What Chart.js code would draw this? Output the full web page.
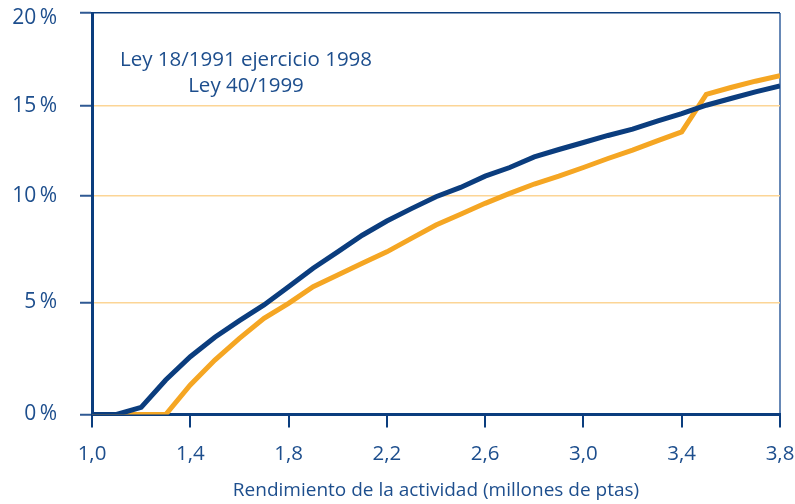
<!DOCTYPE html>
<html lang="es">
<head>
<meta charset="utf-8">
<title>Rendimiento de la actividad</title>
<script src="https://cdn.jsdelivr.net/npm/chart.js@4.4.1/dist/chart.umd.min.js"></script>
<style>
  html, body { margin: 0; padding: 0; background: #fff; }
  #contenedor { width: 795px; height: 504px; }
</style>
</head>
<body>
<div id="contenedor"><canvas id="graficoTipos"></canvas></div>
<script>
// Rendimiento (millones de ptas)
const rendimientos = [1.0, 1.1, 1.2, 1.3, 1.4, 1.5, 1.6, 1.7, 1.8, 1.9,
                      2.0, 2.1, 2.2, 2.3, 2.4, 2.5, 2.6, 2.7, 2.8, 2.9,
                      3.0, 3.1, 3.2, 3.3, 3.4, 3.5, 3.6, 3.7, 3.8];

// Tipo medio (%) - Ley 18/1991 ejercicio 1998
const ley1991 = [0, 0, 0.32, 1.54, 2.58, 3.45, 4.19, 4.89, 5.74, 6.61,
                 7.38, 8.16, 8.83, 9.41, 9.97, 10.48, 11.11, 11.59, 12.18, 12.59,
                 12.98, 13.37, 13.72, 14.17, 14.58, 15.05, 15.41, 15.77, 16.09];

// Tipo medio (%) - Ley 40/1999
const ley1999 = [0, 0, 0, 0, 1.32, 2.43, 3.40, 4.29, 4.96, 5.74,
                 6.29, 6.84, 7.38, 8.01, 8.64, 9.15, 9.66, 10.15, 10.67, 11.11,
                 11.59, 12.09, 12.56, 13.07, 13.57, 15.63, 16.0, 16.34, 16.63];

const ticksY = [0, 5, 10, 15, 20];
const textosLeyenda = ['Ley 18/1991 ejercicio 1998', 'Ley 40/1999'];
const tituloEjeX = 'Rendimiento de la actividad (millones de ptas)';

const AZUL = '#0b3d7e';
const TEXTO = '#1d4e8d';
const NARANJA = '#f5a623';

// El eje vertical del original no es uniforme: cada tramo de 5 puntos ocupa
// una fracción distinta del alto. Se replica con una escala lineal por tramos.
const tramosY = [[0, 0], [5, 0.279], [10, 0.544], [15, 0.768], [20, 1]];

function valorADecimal(v) {
    for (let i = 1; i < tramosY.length; i++) {
        const [v0, d0] = tramosY[i - 1];
        const [v1, d1] = tramosY[i];
        if (v <= v1 || i === tramosY.length - 1) {
            return d0 + (v - v0) / (v1 - v0) * (d1 - d0);
        }
    }
    return 0;
}

function decimalAValor(d) {
    for (let i = 1; i < tramosY.length; i++) {
        const [v0, d0] = tramosY[i - 1];
        const [v1, d1] = tramosY[i];
        if (d <= d1 || i === tramosY.length - 1) {
            return v0 + (d - d0) / (d1 - d0) * (v1 - v0);
        }
    }
    return 0;
}

class EscalaTramos extends Chart.LinearScale {
    getPixelForValue(value) {
        if (value === null || isNaN(value)) return NaN;
        return this.getPixelForDecimal(valorADecimal(value));
    }
    getValueForPixel(pixel) {
        return decimalAValor(this.getDecimalForPixel(pixel));
    }
    // la etiqueta superior (20 %) va un poco por debajo de su marca, como en el original
    _computeLabelItems(chartArea) {
        const items = super._computeLabelItems(chartArea);
        items.forEach((item, i) => {
            if (this.ticks[i] && this.ticks[i].value === this.max) {
                item.options.translation[1] += 5;
            }
        });
        return items;
    }
}
EscalaTramos.id = 'tramos';
EscalaTramos.defaults = Chart.LinearScale.defaults;
Chart.register(EscalaTramos);

// Texto de la leyenda centrado dentro del área del gráfico
const leyendaTexto = {
    id: 'leyendaTexto',
    afterDraw(chart) {
        const ctx = chart.ctx;
        ctx.save();
        ctx.font = "20.5px 'Open Sans', sans-serif";
        ctx.fillStyle = TEXTO;
        ctx.textAlign = 'center';
        ctx.textBaseline = 'middle';
        ctx.fillText(textosLeyenda[0], 246, 60);
        ctx.fillText(textosLeyenda[1], 246, 86);
        ctx.restore();
    }
};

function puntos(valores) {
    return rendimientos.map((x, i) => ({ x: x, y: valores[i] }));
}

Chart.defaults.font.family = "'Open Sans', sans-serif";
Chart.defaults.color = TEXTO;

new Chart(document.getElementById('graficoTipos'), {
    type: 'line',
    data: {
        datasets: [
            {
                label: textosLeyenda[0],
                data: puntos(ley1991),
                borderColor: AZUL,
                borderWidth: 5,
                pointRadius: 0,
                tension: 0
            },
            {
                label: textosLeyenda[1],
                data: puntos(ley1999),
                borderColor: NARANJA,
                borderWidth: 5,
                pointRadius: 0,
                tension: 0
            }
        ]
    },
    options: {
        responsive: true,
        maintainAspectRatio: false,
        animation: false,
        layout: { padding: { top: 13, right: 15, left: 0, bottom: 0 } },
        plugins: {
            legend: { display: false },
            tooltip: { enabled: false }
        },
        scales: {
            x: {
                type: 'linear',
                min: 1,
                max: 3.8,
                afterFit: (eje) => {
                    eje.height = 89.5;
                    eje.paddingLeft = 0;
                    eje.paddingRight = 0;
                },
                border: { color: AZUL, width: 3 },
                grid: {
                    color: (c) => (c.tick && Math.abs(c.tick.value - 3.8) < 1e-6) ? '#6788b6' : 'rgba(0,0,0,0)',
                    lineWidth: 2,
                    tickColor: AZUL,
                    tickWidth: 2,
                    tickLength: 13
                },
                ticks: {
                    stepSize: 0.4,
                    padding: 14,
                    maxRotation: 0,
                    font: { size: 20.5 },
                    color: TEXTO,
                    callback: (v) => v.toFixed(1).replace('.', ',')
                },
                title: {
                    display: true,
                    text: tituloEjeX,
                    color: TEXTO,
                    font: { size: 19 },
                    padding: { top: 0, bottom: 2 }
                }
            },
            y: {
                type: 'tramos',
                min: 0,
                max: 20,
                afterFit: (eje) => {
                    eje.width = 92;
                    eje.paddingTop = 0;
                    eje.paddingBottom = 0;
                },
                afterBuildTicks: (eje) => { eje.ticks = ticksY.map(v => ({ value: v })); },
                border: { color: AZUL, width: 3 },
                grid: {
                    color: (c) => {
                        if (!c.tick) return 'rgba(0,0,0,0)';
                        if (c.tick.value === 20) return AZUL;
                        if (c.tick.value === 0) return 'rgba(0,0,0,0)';
                        return '#fcd596';
                    },
                    lineWidth: 1.5,
                    tickColor: '#2f5993',
                    tickWidth: 2,
                    tickLength: 12
                },
                ticks: {
                    padding: 23,
                    font: { size: 21 },
                    color: TEXTO,
                    callback: (v) => v + '\u2009%'
                }
            }
        }
    },
    plugins: [leyendaTexto]
});
</script>
</body>
</html>
